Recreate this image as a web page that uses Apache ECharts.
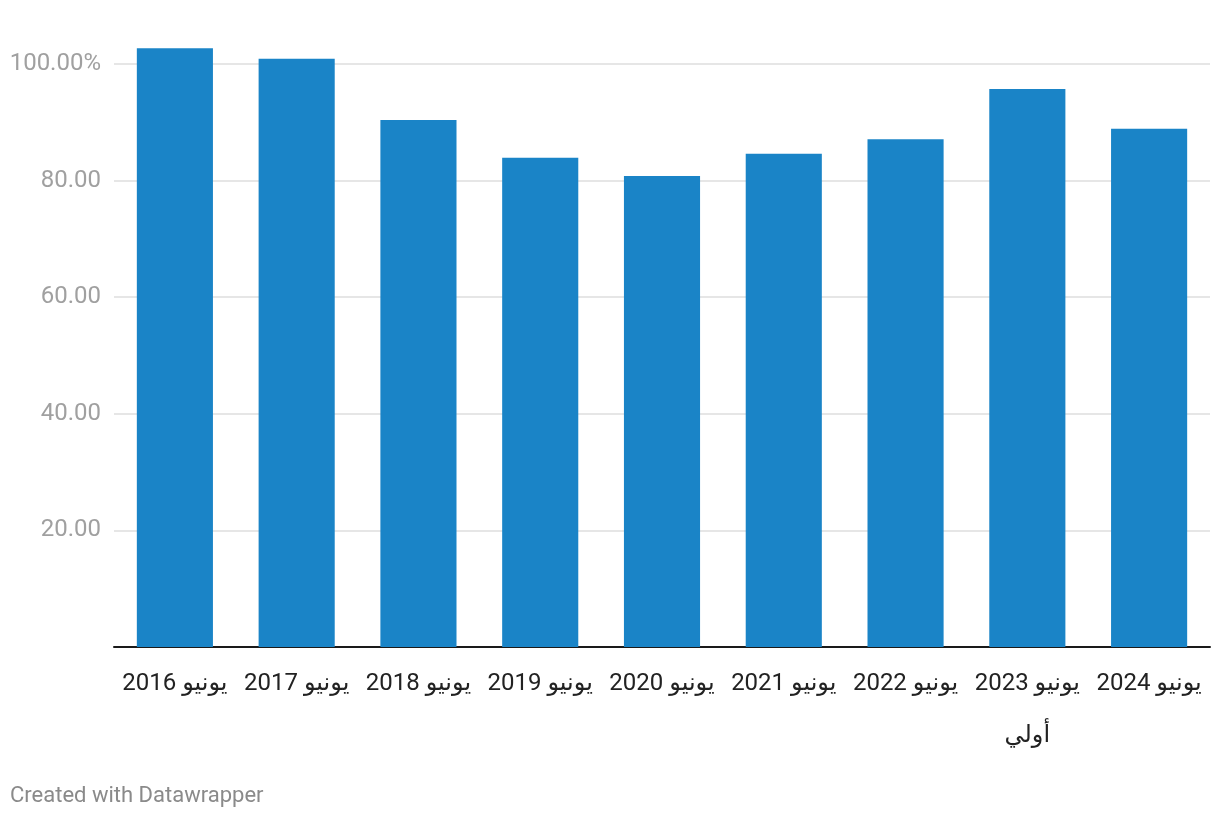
<!DOCTYPE html>
<html>
<head>
<meta charset="utf-8">
<script src="https://cdn.jsdelivr.net/npm/echarts@6/dist/echarts.min.js"></script>
<style>
html,body{margin:0;padding:0;background:#fff;}
#chart{width:1220px;height:818px;}
</style>
</head>
<body>
<div id="chart"></div>
<script>
const categories = ['يونيو 2016','يونيو 2017','يونيو 2018','يونيو 2019','يونيو 2020','يونيو 2021','يونيو 2022','يونيو 2023','يونيو 2024'];
const categoryNotes = ['','','','','','','','أولي',''];
const values = [102.7, 100.9, 90.4, 83.9, 80.8, 84.6, 87.1, 95.7, 88.9];
const yTicks = [0, 20, 40, 60, 80, 100];
const footer = 'Created with Datawrapper';

const chart = echarts.init(document.getElementById('chart'), null, {renderer:'canvas'});
chart.setOption({
  animation:false,
  backgroundColor:'#fff',
  textStyle:{fontFamily:'Roboto, "DejaVu Sans", sans-serif'},
  grid:{left:114, right:10, top:64, bottom:171, containLabel:false},
  graphic:[{type:'text', left:10, top:785, style:{text:footer, fill:'#8a8a8a', fontSize:22, fontFamily:'Roboto'}}],
  xAxis:{
    type:'category', data:categories,
    axisTick:{show:false},
    axisLine:{lineStyle:{color:'#1a1a1a', width:2}},
    axisLabel:{
      color:'#222', fontSize:24, margin:11, lineHeight:52, interval:0,
      formatter:(v, i) => {
        const s = '\u202B' + v + '\u202C';
        return categoryNotes[i] ? s + '\n' + categoryNotes[i] : s;
      }
    }
  },
  yAxis:{
    type:'value', min:yTicks[0], max:yTicks[yTicks.length-1], interval:20,
    axisLine:{show:false}, axisTick:{show:false},
    splitLine:{lineStyle:{color:'#e6e6e6', width:2}},
    axisLabel:{
      color:'#a0a0a0', fontSize:24, margin:13, padding:[2,0,0,0],
      formatter:v => v === 0 ? '' : (v === 100 ? v.toFixed(2) + '%' : v.toFixed(2))
    }
  },
  series:[{
    type:'bar', data:values, clip:false,
    barCategoryGap:'37.5%',
    itemStyle:{color:'#1a84c7'}
  }]
});
</script>
</body>
</html>
